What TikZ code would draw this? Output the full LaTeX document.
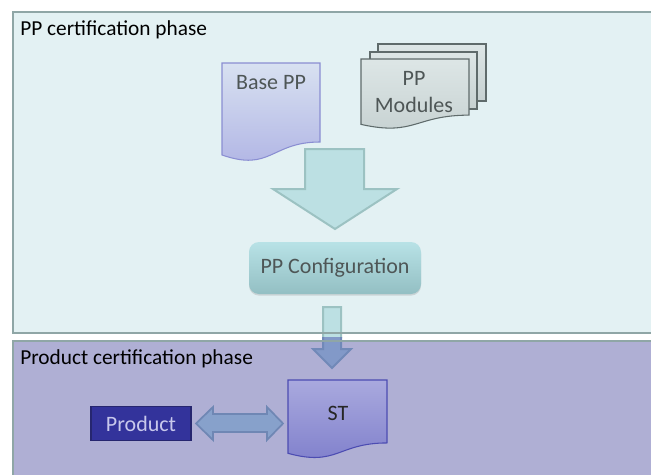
\documentclass[tikz,border=0pt]{standalone}
\usepackage{fontspec}
\setmainfont{Carlito}
\usetikzlibrary{shadows}
\definecolor{panelA}{HTML}{E3F1F3}
\definecolor{panelB}{HTML}{AFAFD4}
\definecolor{panelLine}{HTML}{8FA6A6}
\definecolor{basetop}{HTML}{D8E1F1}
\definecolor{basebot}{HTML}{AFB3E4}
\definecolor{baseline}{HTML}{8A8ED2}
\definecolor{modtop}{HTML}{DDE6E6}
\definecolor{modbot}{HTML}{C6D1D1}
\definecolor{modline}{HTML}{5F6B6B}
\definecolor{arrowfill}{HTML}{BCE0E3}
\definecolor{arrowline}{HTML}{9CC2C2}
\definecolor{cfgtop}{HTML}{B8E2E6}
\definecolor{cfgbot}{HTML}{93BFC3}
\definecolor{blueArrow}{HTML}{8299C8}
\definecolor{blueArrowLine}{HTML}{7189B8}
\definecolor{dblfill}{HTML}{87A1CB}
\definecolor{dblline}{HTML}{6F87B4}
\definecolor{prodfill}{HTML}{33339B}
\definecolor{prodline}{HTML}{26266F}
\definecolor{prodtext}{HTML}{C8C8EC}
\definecolor{sttop}{HTML}{A9A9DE}
\definecolor{stbot}{HTML}{7E7ECB}
\definecolor{stline}{HTML}{4C4CB2}
\definecolor{inktext}{HTML}{4E5656}
\newcommand\mydoc[5]{%
  \pgfmathsetmacro\dxr{#2+#4}%
  \pgfmathsetmacro\dxm{#2+0.5*#4}%
  \pgfmathsetmacro\dyr{#3+0.802*#5}%
  \pgfmathsetmacro\dyc{#3+1.107*#5}%
  \pgfmathsetmacro\dyl{#3+0.934*#5}%
  \path[#1] (#2,#3) -- (\dxr,#3) -- (\dxr,\dyr) .. controls (\dxm,\dyr) and (\dxm,\dyc) .. (#2,\dyl) -- cycle;}
\tikzset{
  paneltitle/.style={anchor=west, font=\fontsize{16}{18}\selectfont, text=black, inner sep=0pt},
  doctext/.style={font=\fontsize{16.5}{19}\selectfont, text=inktext, inner sep=0pt, align=center},
}
\begin{document}
\begin{tikzpicture}[x=0.75pt,y=-0.75pt]
\useasboundingbox (0,0) rectangle (651,475);
\clip (0,0) rectangle (651,475);
% panels
\fill[panelA] (13,12) rectangle (660,333);
\fill[panelB] (13,341) rectangle (660,490);
% small connector arrow (cyan part in top panel, blue in bottom panel)
\begin{scope}
  \clip (0,0) rectangle (651,337);
  \path[fill=arrowfill, draw=arrowline, line width=1.5pt] (323,307) -- (341,307) -- (341,349) -- (351,349) -- (332,368) -- (313,349) -- (323,349) -- cycle;
\end{scope}
\begin{scope}
  \clip (0,337) rectangle (651,475);
  \path[fill=blueArrow, draw=blueArrowLine, line width=1.5pt] (323,307) -- (341,307) -- (341,349) -- (351,349) -- (332,368) -- (313,349) -- (323,349) -- cycle;
\end{scope}
\draw[panelLine, line width=1.6pt] (660,12) -- (13,12) -- (13,333) -- (660,333);
\draw[panelLine, line width=1.6pt] (660,341) -- (13,341) -- (13,490);
\node[paneltitle] (t1) at (20,30) {PP certification phase};
\node[paneltitle] (t2) at (20,359) {Product certification phase};
% Base PP
\mydoc{top color=basetop, bottom color=basebot, draw=baseline, line width=0.8pt}{222}{63}{98}{98.5}
\node[doctext] (base) at (271,83) {Base PP};
% PP Modules
\path[top color=modtop, bottom color=modbot, draw=modline, line width=0.8pt] (378,44) rectangle (486,101);
\path[top color=modtop, bottom color=modbot, draw=modline, line width=0.8pt] (370,52) rectangle (477,109);
\mydoc{top color=modtop, bottom color=modbot, draw=modline, line width=0.8pt}{361}{59}{108}{70}
\node[doctext, text width=80pt] (mod) at (414,92) {PP\\[1pt]Modules};
% big arrow
\path[fill=arrowfill, draw=arrowline, line width=1.5pt] (305,149) -- (364,149) -- (364,189) -- (397,189) -- (335,229) -- (273,189) -- (305,189) -- cycle;
% PP configuration
\node[rounded corners=7.5pt, top color=cfgtop, bottom color=cfgbot, minimum width=129pt, minimum height=39pt, inner sep=0pt,
      drop shadow={shadow xshift=0pt, shadow yshift=-1.2pt, opacity=0.25}, font=\fontsize{16.5}{19}\selectfont, text=inktext]
      (cfg) at (335,268) {PP Configuration};
% ST
\mydoc{top color=sttop, bottom color=stbot, draw=stline, line width=0.8pt}{288}{380}{99}{78.5}
\node[font=\fontsize{16.5}{19}\selectfont, text=black!85, inner sep=0pt] (st) at (338,413) {ST};
% Product
\node[fill=prodfill, draw=prodline, line width=0.8pt, minimum width=75pt, minimum height=26pt, inner sep=0pt,
      font=\fontsize{16.5}{19}\selectfont, text=prodtext] (prod) at (141,423.5) {Product};
% double arrow
\path[fill=dblfill, draw=dblline, line width=1.3pt] (196,423.5) -- (213,407) -- (213,414) -- (267,414) -- (267,407) -- (283,423.5) -- (267,440) -- (267,432) -- (213,432) -- (213,440) -- cycle;
\end{tikzpicture}
\end{document}
